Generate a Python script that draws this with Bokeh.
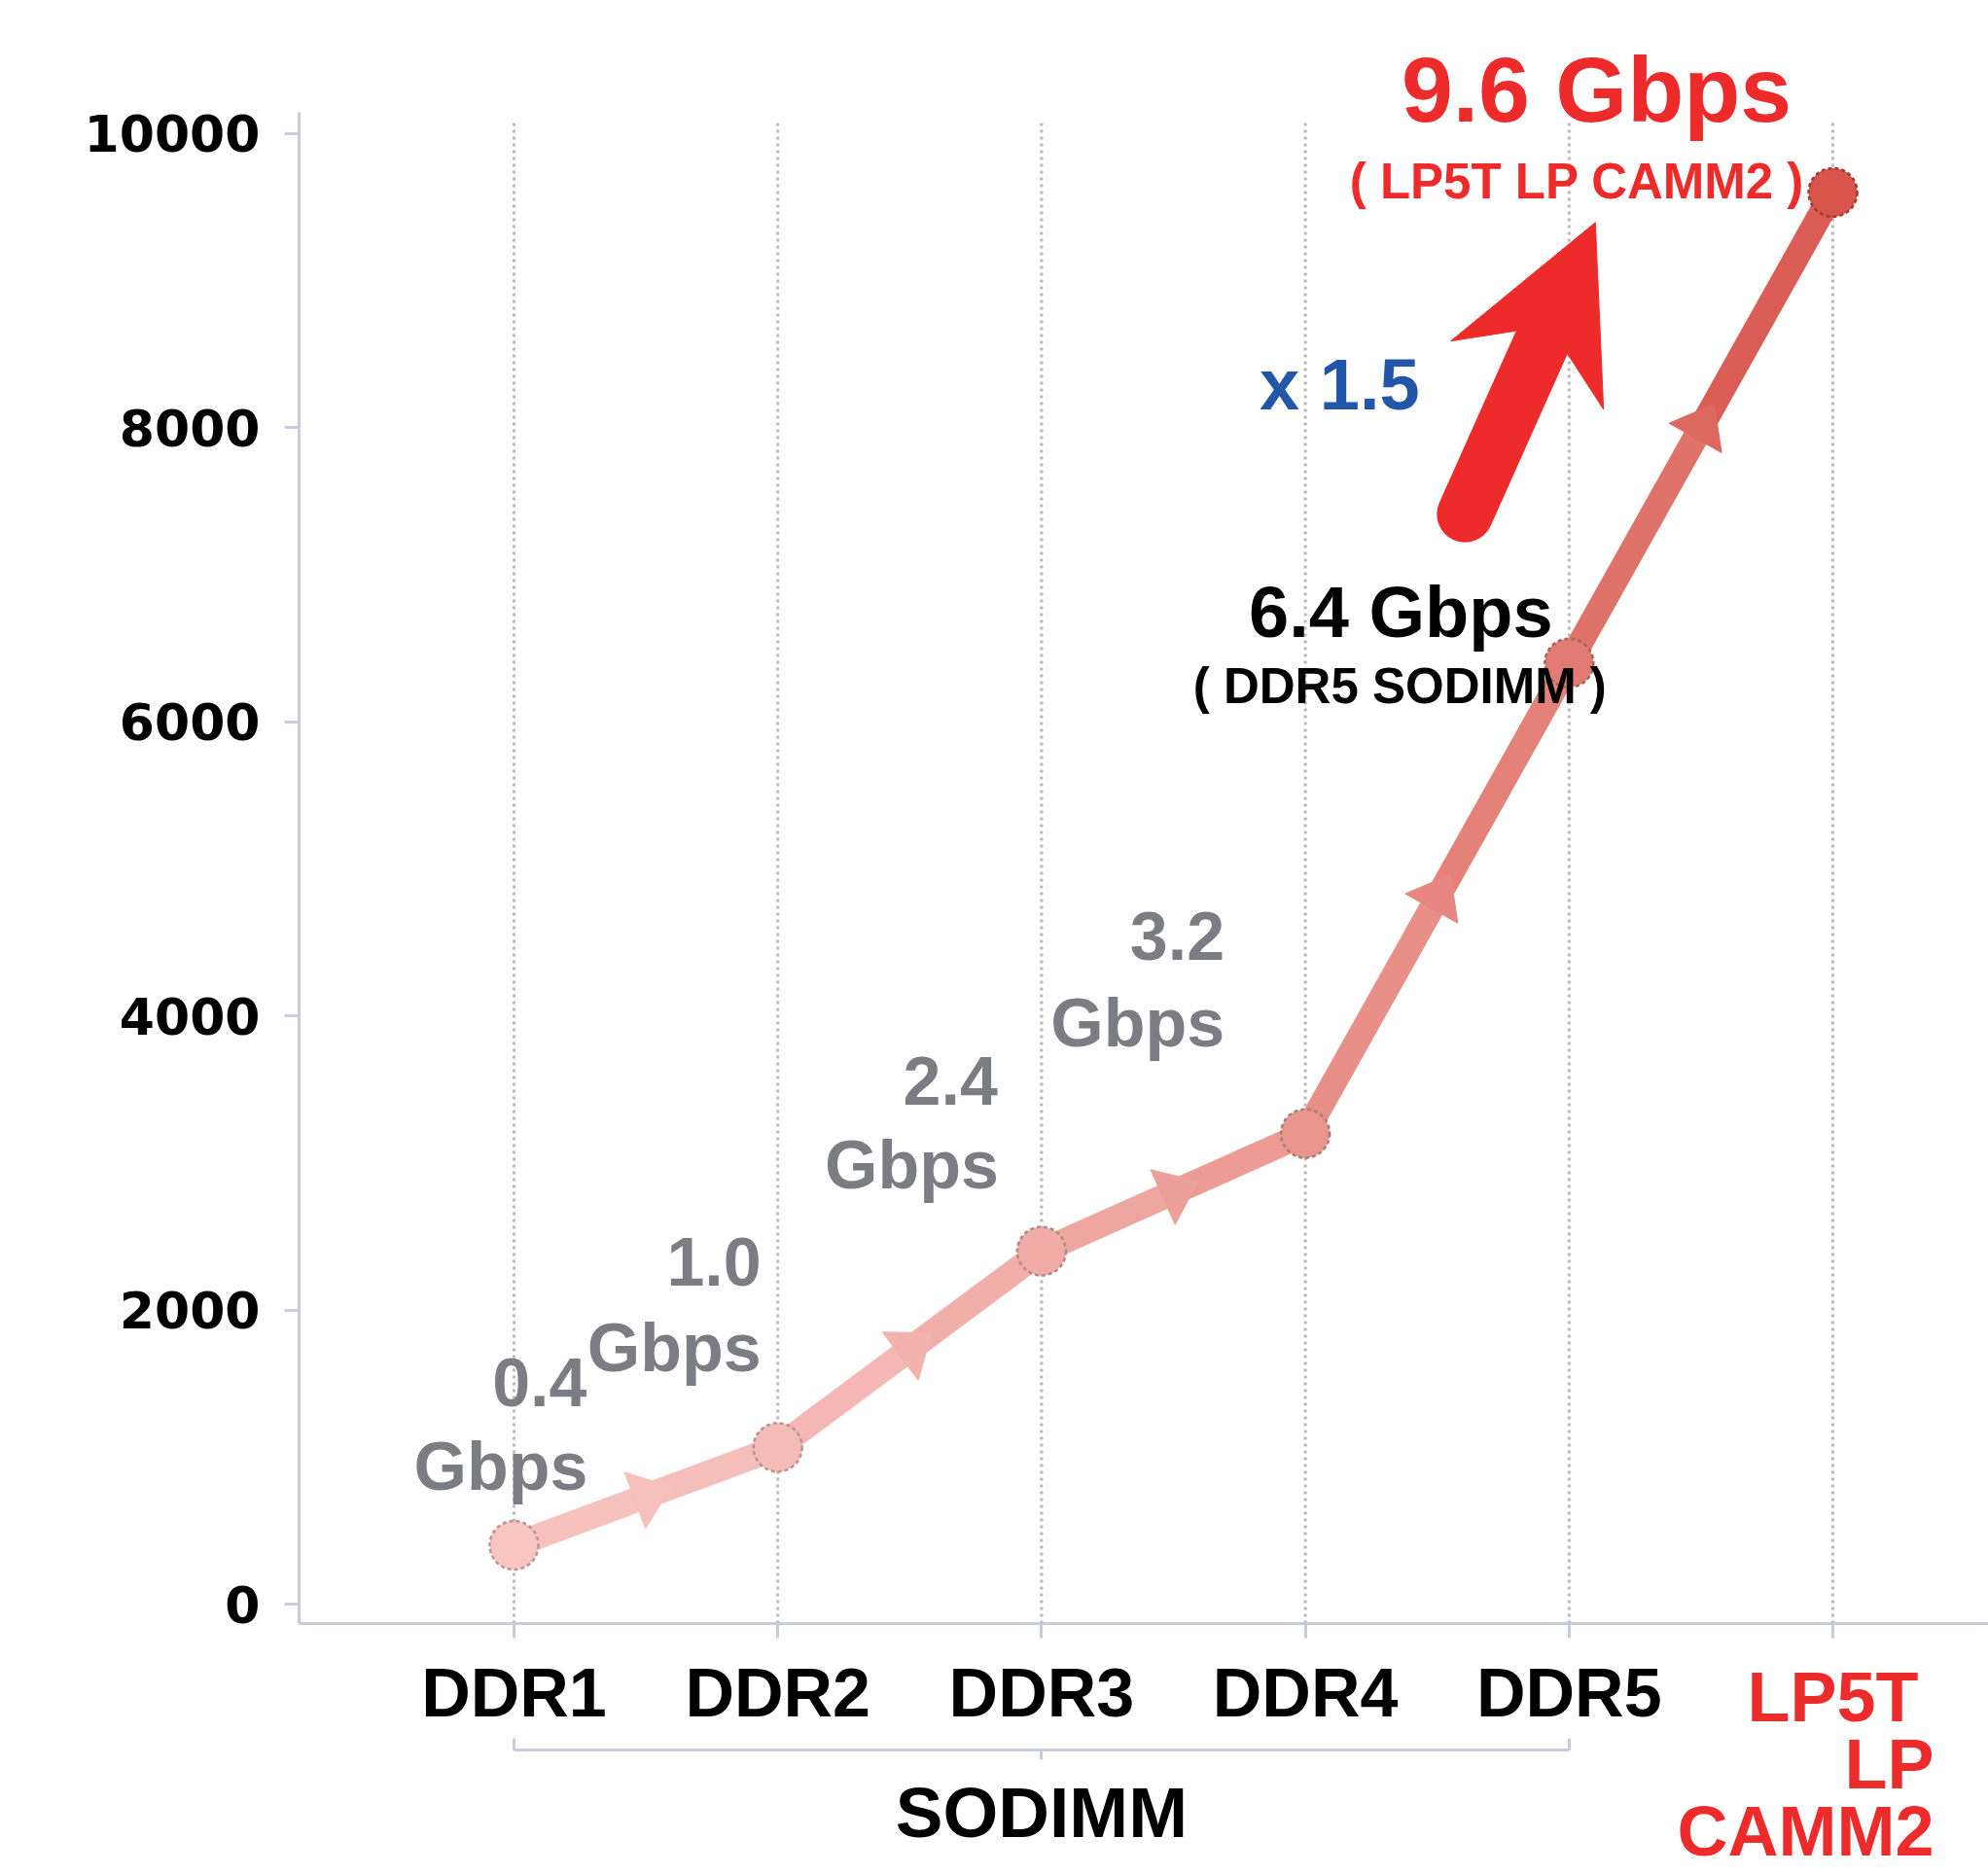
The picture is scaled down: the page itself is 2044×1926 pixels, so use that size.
import math
import numpy as np
from bokeh.plotting import figure
from bokeh.models import Range1d, FixedTicker, LinearAxis, Label
from bokeh.embed import file_html
from bokeh.resources import INLINE

# ---------------- data ----------------
categories = ["DDR1", "DDR2", "DDR3", "DDR4", "DDR5", "LP5T LP CAMM2"]
speed_mbps = [400, 1066, 2400, 3200, 6400, 9600]
y_ticks = [0, 2000, 4000, 6000, 8000, 10000]
group_label = "SODIMM"
group_members = [0, 1, 2, 3, 4]          # indices of categories in the SODIMM group
lp_tick_lines = ["LP5T", "LP", "CAMM2"]
value_labels = [("0.4", "Gbps"), ("1.0", "Gbps"), ("2.4", "Gbps"), ("3.2", "Gbps")]
ddr5_title, ddr5_sub = "6.4 Gbps", "( DDR5 SODIMM )"
lp_title, lp_sub = "9.6 Gbps", "( LP5T LP CAMM2 )"
ratio_text = "x 1.5"

# ---------------- layout / style ----------------
W, H = 2044, 1926
CAT0_PX, CAT_STEP_PX = 528.0, 271.2      # screen x of first category, px per category
ZERO_PX, KY = 1649.0, 0.15121            # screen y of value 0, px per unit
KX = CAT_STEP_PX
X0 = -CAT0_PX / KX
X1 = X0 + W / KX
Y1 = ZERO_PX / KY
Y0 = Y1 - H / KY


def px2x(px):
    return X0 + px / KX


def px2y(py):
    return Y1 - py / KY


AXIS_X_PX, AXIS_Y_PX, AXIS_TOP_PX = 307, 1669, 115
GROUP_Y_PX, GRID_TOP_PX = 1799, 124

AXIS_COLOR = "#c8ccd8"
GRID_COLOR = "#bdb7b7"
RED = "#ee2b2b"
GRAY = "#7c7d82"
BLUE = "#2256a8"
FONT = "Liberation Sans"
point_colors = ["#f8c5c1", "#f5bbb7", "#f0aba6", "#ea968f", "#e27b73", "#d7554b"]
point_outline = ["#b99592", "#b69290", "#b28784", "#ad7a76", "#a8625c", "#9c3a33"]


def hex2rgb(h):
    h = h.lstrip("#")
    return np.array([int(h[i:i + 2], 16) for i in (0, 2, 4)], dtype=float)


def blend(c1, c2, t):
    r = hex2rgb(c1) * (1 - t) + hex2rgb(c2) * t
    return "#%02x%02x%02x" % tuple(int(round(v)) for v in r)


p = figure(frame_width=W, frame_height=H,
           x_range=Range1d(X0, X1), y_range=Range1d(Y0, Y1),
           output_backend="svg", toolbar_location=None,
           min_border=0, min_border_left=0, min_border_right=0,
           min_border_top=0, min_border_bottom=0,
           background_fill_color="white", border_fill_color="white",
           outline_line_color=None)
p.xgrid.visible = False
p.ygrid.visible = False

# ---- y axis ----
ya = p.yaxis[0]
ya.fixed_location = px2x(AXIS_X_PX)
ya.bounds = (px2y(AXIS_Y_PX), px2y(AXIS_TOP_PX))
ya.ticker = FixedTicker(ticks=y_ticks)
ya.axis_line_color = AXIS_COLOR
ya.axis_line_width = 3
ya.major_tick_line_color = AXIS_COLOR
ya.major_tick_line_width = 3
ya.major_tick_out = 15
ya.major_tick_in = 0
ya.minor_tick_line_color = None
ya.major_label_text_font = "DejaVu Sans"
ya.major_label_text_font_style = "bold"
ya.major_label_text_font_size = "52px"
ya.major_label_text_color = "black"
ya.major_label_standoff = 25

# ---- x axis (categories) ----
xpos = list(range(len(categories)))
xa = p.xaxis[0]
xa.fixed_location = px2y(AXIS_Y_PX)
xa.bounds = (px2x(AXIS_X_PX), X1)
xa.ticker = FixedTicker(ticks=xpos)
overrides = {i: c for i, c in enumerate(categories)}
overrides[len(categories) - 1] = ""   # drawn in red separately
xa.major_label_overrides = overrides
xa.axis_line_color = AXIS_COLOR
xa.axis_line_width = 3
xa.major_tick_line_color = AXIS_COLOR
xa.major_tick_line_width = 3
xa.major_tick_out = 15
xa.major_tick_in = 0
xa.minor_tick_line_color = None
xa.major_label_text_font = FONT
xa.major_label_text_font_style = "bold"
xa.major_label_text_font_size = "70px"
xa.major_label_text_color = "black"
xa.major_label_standoff = 17

# ---- group bracket axis (SODIMM) ----
g0, g1 = group_members[0], group_members[-1]
gc = (g0 + g1) / 2
ga = LinearAxis(ticker=FixedTicker(ticks=[gc], minor_ticks=[g0, g1]),
                bounds=(g0, g1), major_label_overrides={gc: group_label},
                fixed_location=px2y(GROUP_Y_PX))
ga.axis_line_color = AXIS_COLOR
ga.axis_line_width = 3
ga.major_tick_line_color = AXIS_COLOR
ga.major_tick_line_width = 3
ga.major_tick_out = 10
ga.major_tick_in = 0
ga.minor_tick_line_color = AXIS_COLOR
ga.minor_tick_line_width = 3
ga.minor_tick_in = 12
ga.minor_tick_out = 0
ga.major_label_text_font = FONT
ga.major_label_text_font_style = "bold"
ga.major_label_text_font_size = "73px"
ga.major_label_text_color = "black"
ga.major_label_standoff = 13
p.add_layout(ga, "below")

# ---- vertical dotted grid at the categories ----
n = len(xpos)
p.segment(xpos, [px2y(AXIS_Y_PX)] * n, xpos, [px2y(GRID_TOP_PX)] * n,
          line_color=GRID_COLOR, line_width=3, line_dash="3 4")

# ---- the data line (gradient halves) ----
xs = np.array(xpos, dtype=float)
ys = np.array(speed_mbps, dtype=float)
mx = (xs[:-1] + xs[1:]) / 2
my = (ys[:-1] + ys[1:]) / 2
sx0, sy0, sx1, sy1, scol = [], [], [], [], []
for i in range(len(xs) - 1):
    sx0 += [xs[i], mx[i]]
    sy0 += [ys[i], my[i]]
    sx1 += [mx[i], xs[i + 1]]
    sy1 += [my[i], ys[i + 1]]
    scol += [blend(point_colors[i], point_colors[i + 1], 0.25),
             blend(point_colors[i], point_colors[i + 1], 0.75)]
p.segment(sx0, sy0, sx1, sy1, line_width=26, line_color=scol, line_cap="round")


def head_patch(tx, ty, ux, uy, pts):
    """pts: list of (along, across) px offsets from (tx, ty) in data coords."""
    nx, ny = -uy, ux
    hx = [tx + (a * ux + c * nx) / KX for a, c in pts]
    hy = [ty + (a * uy + c * ny) / KY for a, c in pts]
    return hx, hy


# mid-segment arrowheads
ahx, ahy, ahc = [], [], []
for i in range(len(xs) - 1):
    dxp = (xs[i + 1] - xs[i]) * KX
    dyp = (ys[i + 1] - ys[i]) * KY
    L = math.hypot(dxp, dyp)
    ux, uy = dxp / L, dyp / L
    hx, hy = head_patch(mx[i], my[i], ux, uy, [(28, 0), (-12, -31), (-12, 31)])
    ahx.append(hx)
    ahy.append(hy)
    ahc.append(blend(point_colors[i], point_colors[i + 1], 0.5))
p.patches(ahx, ahy, fill_color=ahc, line_color=ahc, line_width=1)

# circles at data points
p.scatter(xs, ys, size=50, marker="circle", fill_color=point_colors,
          line_color=point_outline, line_width=2.5, line_dash="4 3")

# ---- big red "x 1.5" arrow (anchored to DDR5 point, px offsets) ----
i5 = 4
tail_px = (-107, 153)
tip_px = (27, 453)
tx = xs[i5] + tip_px[0] / KX
ty = ys[i5] + tip_px[1] / KY
vx, vy = tip_px[0] - tail_px[0], tip_px[1] - tail_px[1]
L = math.hypot(vx, vy)
ux, uy = vx / L, vy / L
bx = tx - 130 * ux / KX
by = ty - 130 * uy / KY
p.segment([xs[i5] + tail_px[0] / KX], [ys[i5] + tail_px[1] / KY], [bx], [by],
          line_width=58, line_color=RED, line_cap="round")
hx, hy = head_patch(tx, ty, ux, uy, [(0, 0), (-172, -86), (-135, -29), (-135, 29), (-172, 86)])
p.patch(hx, hy, fill_color=RED, line_color=RED, line_width=1)


def add_label(text, x, y, dx, dy, size, color, align="center", font=FONT):
    p.add_layout(Label(x=x, y=y, x_offset=dx, y_offset=dy, text=text,
                       text_font=font, text_font_style="bold",
                       text_font_size=f"{size}px", text_color=color,
                       text_align=align, text_baseline="middle"))


# gray value labels (right aligned), px offsets from each point
gray_off = [((75, 168), (76, 81)), ((-17, 191), (-17, 102)),
            ((-45, 175), (-44, 89)), ((-83, 203), (-83, 114))]
for i, ((t1, t2), (o1, o2)) in enumerate(zip(value_labels, gray_off)):
    add_label(t1, xs[i], ys[i], o1[0], o1[1], 70, GRAY, "right")
    add_label(t2, xs[i], ys[i], o2[0], o2[1], 70, GRAY, "right")

# DDR5 callout
add_label(ddr5_title, xs[4], ys[4], -173, 52, 74, "black")
add_label(ddr5_sub, xs[4], ys[4], -174, -24, 51, "black")
# LP5T callout
add_label(lp_title, xs[5], ys[5], -243, 106, 95, RED)
add_label(lp_sub, xs[5], ys[5], -263, 11, 51, RED)
# ratio
add_label(ratio_text, xs[4], ys[4], -236, 286, 74, BLUE)

# red category tick label lines (below axis)
add_label(lp_tick_lines[0], xs[5], 0, 0, -95, 72, RED, "center")
add_label(lp_tick_lines[1], xs[5], 0, 104, -164, 72, RED, "right")
add_label(lp_tick_lines[2], xs[5], 0, 104, -233, 72, RED, "right")

open("out.html", "w").write(file_html(p, INLINE))
